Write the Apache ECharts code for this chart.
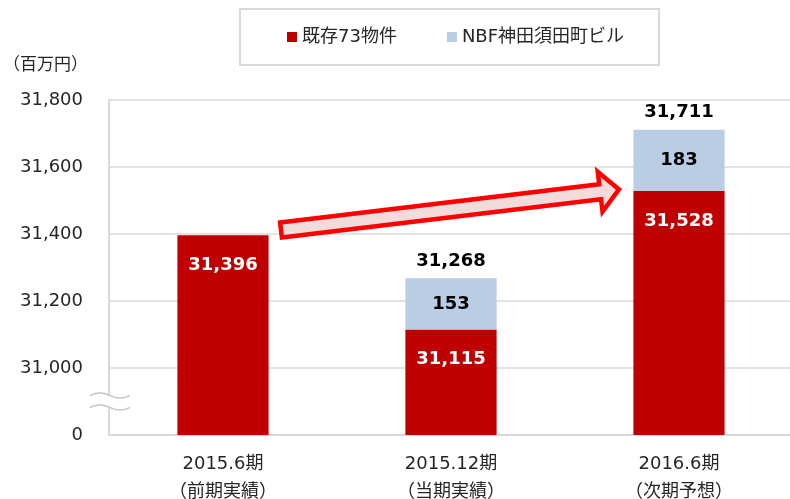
<!DOCTYPE html>
<html>
<head>
<meta charset="utf-8">
<script src="https://cdn.jsdelivr.net/npm/echarts@6/dist/echarts.min.js"></script>
<style>
html, body { margin: 0; padding: 0; background: #fff; }
#main { width: 790px; height: 499px; }
</style>
</head>
<body>
<div id="main"></div>
<script>
// データ
var categories = ['2015.6期\n（前期実績）', '2015.12期\n（当期実績）', '2016.6期\n（次期予想）'];
var existing73 = [31396, 31115, 31528];   // 既存73物件
var kandaSuda = [null, 153, 183];         // NBF神田須田町ビル
var totals = [null, 31268, 31711];
var yMin = 30800;  // 軸の一番下は「0」として表示（省略）
var yMax = 31800;
var yStep = 200;

var FONT = '"DejaVu Sans", "Noto Sans CJK JP", sans-serif';
var TXT = '#262626';

function fmt(v) {
  return Number(v).toLocaleString('en-US');
}

var chart = echarts.init(document.getElementById('main'));

var option = {
  animation: false,
  textStyle: { fontFamily: FONT },
  title: {
    text: '（百万円）',
    left: -2,
    top: 52,
    textStyle: { fontFamily: FONT, fontSize: 17, fontWeight: 'normal', color: TXT }
  },
  legend: {
    left: 240,
    top: 9,
    padding: [19, 35, 19, 47],
    borderColor: '#d9d9d9',
    borderWidth: 2,
    itemWidth: 10,
    itemHeight: 10,
    itemGap: 50,
    icon: 'rect',
    textStyle: { fontFamily: FONT, fontSize: 18, color: TXT },
    data: ['既存73物件', 'NBF神田須田町ビル']
  },
  grid: {
    left: 109,
    top: 100,
    width: 684,
    bottom: 64,
    containLabel: false,
    outerBoundsMode: 'none'
  },
  xAxis: {
    type: 'category',
    data: categories,
    axisLine: { lineStyle: { color: '#d9d9d9', width: 2 } },
    axisTick: { show: false },
    axisLabel: {
      fontFamily: FONT,
      fontSize: 18,
      lineHeight: 28,
      color: TXT,
      margin: 15
    }
  },
  yAxis: {
    type: 'value',
    min: yMin,
    max: yMax,
    interval: yStep,
    axisLine: { show: true, lineStyle: { color: '#d9d9d9', width: 2 } },
    axisTick: { show: false },
    splitLine: { lineStyle: { color: '#d9d9d9', width: 1.5 } },
    axisLabel: {
      fontFamily: FONT,
      fontSize: 18,
      color: TXT,
      margin: 26,
      formatter: function (v) { return v === yMin ? '0' : fmt(v); }
    }
  },
  series: [
    {
      name: '既存73物件',
      type: 'bar',
      stack: 'total',
      barWidth: '40%',
      itemStyle: { color: '#c00000' },
      label: {
        show: true,
        position: 'insideTop',
        distance: 21,
        color: '#fff',
        fontFamily: FONT,
        fontSize: 18,
        fontWeight: 'bold',
        formatter: function (p) { return fmt(p.value); }
      },
      data: existing73
    },
    {
      name: 'NBF神田須田町ビル',
      type: 'bar',
      stack: 'total',
      itemStyle: { color: '#b9cde4' },
      label: {
        show: true,
        position: 'inside',
        color: '#000',
        fontFamily: FONT,
        fontSize: 18,
        fontWeight: 'bold',
        formatter: function (p) { return fmt(p.value); }
      },
      data: kandaSuda
    },
    {
      name: '合計',
      type: 'scatter',
      symbolSize: 0,
      silent: true,
      itemStyle: { opacity: 1 },
      label: {
        show: true,
        position: 'top',
        distance: 8,
        color: '#000',
        fontFamily: FONT,
        fontSize: 18,
        fontWeight: 'bold',
        formatter: function (p) { return fmt(p.value); }
      },
      data: totals
    }
  ]
};

chart.setOption(option);

// 矢印と省略記号
function arrowPoints(p0, p1, hw, hh, hl) {
  var dx = p1[0] - p0[0], dy = p1[1] - p0[1];
  var len = Math.sqrt(dx * dx + dy * dy);
  var ux = dx / len, uy = dy / len, nx = -uy, ny = ux;
  var local = [[0, -hw], [len - hl, -hw], [len - hl, -hh], [len, 0], [len - hl, hh], [len - hl, hw], [0, hw]];
  return local.map(function (q) {
    return [p0[0] + ux * q[0] + nx * q[1], p0[1] + uy * q[0] + ny * q[1]];
  });
}

var a0 = chart.convertToPixel({ gridIndex: 0 }, [0, 31412]);
var a1 = chart.convertToPixel({ gridIndex: 0 }, [2, 31533]);
a0[0] += 58;
a1[0] -= 60;

var brk = chart.convertToPixel({ gridIndex: 0 }, [0, 30900]);
var axisX = 110;
var by = brk[1];

// 波線（~）
function wave(y) {
  var pts = [];
  for (var i = 0; i <= 40; i++) {
    pts.push([axisX - 20 + i, y - 2.5 * Math.sin(i / 40 * Math.PI * 2)]);
  }
  return pts;
}

chart.setOption({
  graphic: [
    {
      type: 'polygon',
      shape: { points: arrowPoints(a0, a1, 7.5, 20, 19) },
      style: { fill: '#f2dcdb', stroke: '#ff0000', lineWidth: 4.5, lineJoin: 'miter' },
      z: 100
    },
    {
      type: 'rect',
      shape: { x: axisX - 3, y: by - 6, width: 6, height: 12 },
      style: { fill: '#fff' },
      z: 100
    },
    {
      type: 'polyline',
      shape: { points: wave(by - 6) },
      style: { fill: null, stroke: '#c4c4c4', lineWidth: 1.5 },
      z: 101
    },
    {
      type: 'polyline',
      shape: { points: wave(by + 6) },
      style: { fill: null, stroke: '#c4c4c4', lineWidth: 1.5 },
      z: 101
    }
  ]
});
</script>
</body>
</html>
